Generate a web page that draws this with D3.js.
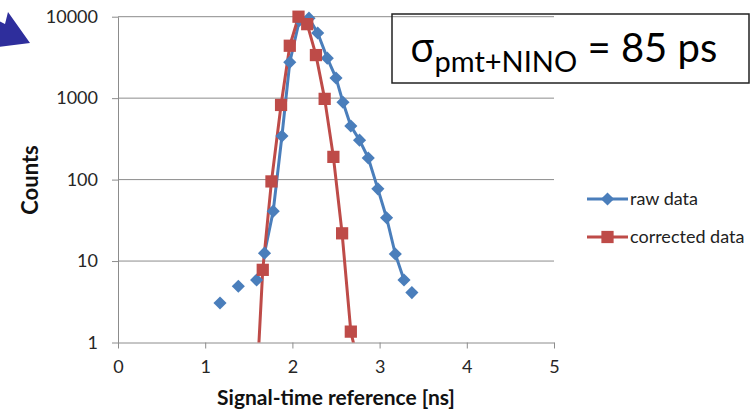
<!DOCTYPE html>
<html>
<head>
<meta charset="utf-8">
<script src="https://cdn.jsdelivr.net/npm/d3@7"></script>
<style>
  html, body { margin: 0; padding: 0; background: #fff; }
  svg { display: block; font-family: Lato, 'Open Sans', sans-serif; }
</style>
</head>
<body>
<svg></svg>
<script>
// Constants
const width = 752;
const height = 412;

const plotLeft = 118;
const plotRight = 554;
const plotTop = 16.7;
const plotBottom = 342.5;

// data; null = empty bin, line breaks there
const rawTime = [1.17, 1.28, 1.38, 1.48, 1.59, 1.64, 1.68, 1.78, 1.88, 1.97, 2.08, 2.19, 2.29, 2.40, 2.50, 2.58, 2.67, 2.77, 2.87, 2.98, 3.08, 3.18, 3.28, 3.33, 3.37];
const rawCounts = [3.05, null, 4.9, null, 5.85, null, 12.5, 41, 343, 2760, 9000, 9600, 6300, 3100, 1770, 890, 455, 305, 184, 77, 34, 12.2, 5.85, null, 4.1];

const corrTime = [1.56, 1.66, 1.76, 1.87, 1.97, 2.07, 2.17, 2.27, 2.37, 2.47, 2.57, 2.67, 2.77];
const corrCounts = [0.07, 7.8, 95, 825, 4400, 10000, 8100, 3380, 980, 190, 21.9, 1.36, 0.47];

const xTicks = [0, 1, 2, 3, 4, 5];
const yTicks = [1, 10, 100, 1000, 10000];

const seriesNames = ['raw data', 'corrected data'];
const blue = '#4a7ebb';
const red = '#be4b48';
const gridColor = '#8c8c8c';

// svg
const svg = d3.select('svg')
    .attr('width', width)
    .attr('height', height);

// scales
const x = d3.scaleLinear()
    .domain([0, 5])
    .range([plotLeft, plotRight]);

const y = d3.scaleLog()
    .domain([1, 10000])
    .range([plotBottom, plotTop]);

// gridlines
svg.append('g')
    .selectAll('line')
    .data(yTicks.slice(1)).enter().append('line')
    .attr('x1', plotLeft)
    .attr('x2', plotRight)
    .attr('y1', d => y(d))
    .attr('y2', d => y(d))
    .attr('stroke', gridColor)
    .attr('stroke-width', 1);

// yAxis
const yAxis = d3.axisLeft(y)
    .tickValues(yTicks)
    .tickFormat(d3.format('d'))
    .tickSize(6)
    .tickSizeOuter(0)
    .tickPadding(14);

const yG = svg.append('g')
    .attr('transform', `translate(${plotLeft}, 0)`)
    .call(yAxis);

// xAxis
const xAxis = d3.axisBottom(x)
    .tickValues(xTicks)
    .tickFormat(d => String(d))
    .tickSize(6)
    .tickSizeOuter(0)
    .tickPadding(12);

const xG = svg.append('g')
    .attr('transform', `translate(0, ${plotBottom})`)
    .call(xAxis);

[xG, yG].forEach(g => {
    g.select('.domain').attr('stroke', gridColor);
    g.selectAll('.tick line').attr('stroke', gridColor);
    g.selectAll('.tick text')
        .attr('fill', '#262626')
        .attr('font-size', 18)
        .attr('font-family', 'Lato, sans-serif');
});

// axis titles
svg.append('text')
    .attr('x', 336)
    .attr('y', 405)
    .attr('text-anchor', 'middle')
    .attr('font-size', 21)
    .attr('font-weight', 'bold')
    .attr('fill', '#111')
    .text('Signal-time reference [ns]');

svg.append('text')
    .attr('transform', 'translate(38, 180) rotate(-90)')
    .attr('text-anchor', 'middle')
    .attr('font-size', 22)
    .attr('font-weight', 'bold')
    .attr('fill', '#111')
    .text('Counts');

// lines (clipped to the plot area)
svg.append('clipPath')
    .attr('id', 'plot-clip')
    .append('rect')
    .attr('x', plotLeft)
    .attr('y', 0)
    .attr('width', plotRight - plotLeft)
    .attr('height', plotBottom);

const line = d3.line()
    .defined(d => d[1] !== null)
    .x(d => x(d[0]))
    .y(d => y(d[1]));

const rawData = d3.zip(rawTime, rawCounts);
const corrData = d3.zip(corrTime, corrCounts);

const lines = svg.append('g').attr('clip-path', 'url(#plot-clip)');

lines.append('path')
    .datum(rawData)
    .attr('d', line)
    .attr('fill', 'none')
    .attr('stroke', blue)
    .attr('stroke-width', 3)
    .attr('stroke-linejoin', 'round');

lines.append('path')
    .datum(corrData)
    .attr('d', line)
    .attr('fill', 'none')
    .attr('stroke', red)
    .attr('stroke-width', 3)
    .attr('stroke-linejoin', 'round');

// markers
const diamond = d3.symbol().type(d3.symbolDiamond2).size(110);
const square = d3.symbol().type(d3.symbolSquare).size(150);

svg.append('g')
    .selectAll('path')
    .data(rawData.filter(d => d[1] !== null && d[1] >= 1)).enter().append('path')
    .attr('d', diamond)
    .attr('transform', d => `translate(${x(d[0])}, ${y(d[1])})`)
    .attr('fill', blue);

svg.append('g')
    .selectAll('path')
    .data(corrData.filter(d => d[1] >= 1)).enter().append('path')
    .attr('d', square)
    .attr('transform', d => `translate(${x(d[0])}, ${y(d[1])})`)
    .attr('fill', red);

// legend
const legend = svg.append('g')
    .attr('transform', 'translate(587, 199)');

const legendItems = legend.selectAll('g')
    .data(seriesNames).enter().append('g')
    .attr('transform', (d, i) => `translate(0, ${i * 38})`);

legendItems.append('line')
    .attr('x1', 0)
    .attr('x2', 41)
    .attr('stroke', (d, i) => i === 0 ? blue : red)
    .attr('stroke-width', 3);

legendItems.append('path')
    .attr('d', (d, i) => i === 0 ? diamond() : square())
    .attr('transform', 'translate(20.5, 0)')
    .attr('fill', (d, i) => i === 0 ? blue : red);

legendItems.append('text')
    .attr('x', 43)
    .attr('y', 6)
    .attr('font-size', 18)
    .attr('fill', '#222')
    .text(d => d);

// sigma box
const box = svg.append('g');

box.append('rect')
    .attr('x', 392)
    .attr('y', 14)
    .attr('width', 357)
    .attr('height', 69)
    .attr('fill', 'none')
    .attr('stroke', '#222')
    .attr('stroke-width', 1.5);

const boxText = box.append('text')
    .attr('x', 410)
    .attr('y', 62)
    .attr('fill', '#000')
    .attr('font-size', 40);

boxText.append('tspan')
    .attr('font-family', "'Open Sans', sans-serif")
    .text('σ');

boxText.append('tspan')
    .attr('font-size', 29)
    .attr('dy', 10)
    .text('pmt+NINO');

boxText.append('tspan')
    .attr('dy', -10)
    .text(' = 85 ps');

// arrow at the top-left
svg.append('path')
    .attr('d', d3.line()([[-20, 11.8], [5, 24], [8, 12], [30, 43], [-3, 47], [0, 35], [-25, 22.6]]))
    .attr('fill', '#2e2e9c');
</script>
</body>
</html>
